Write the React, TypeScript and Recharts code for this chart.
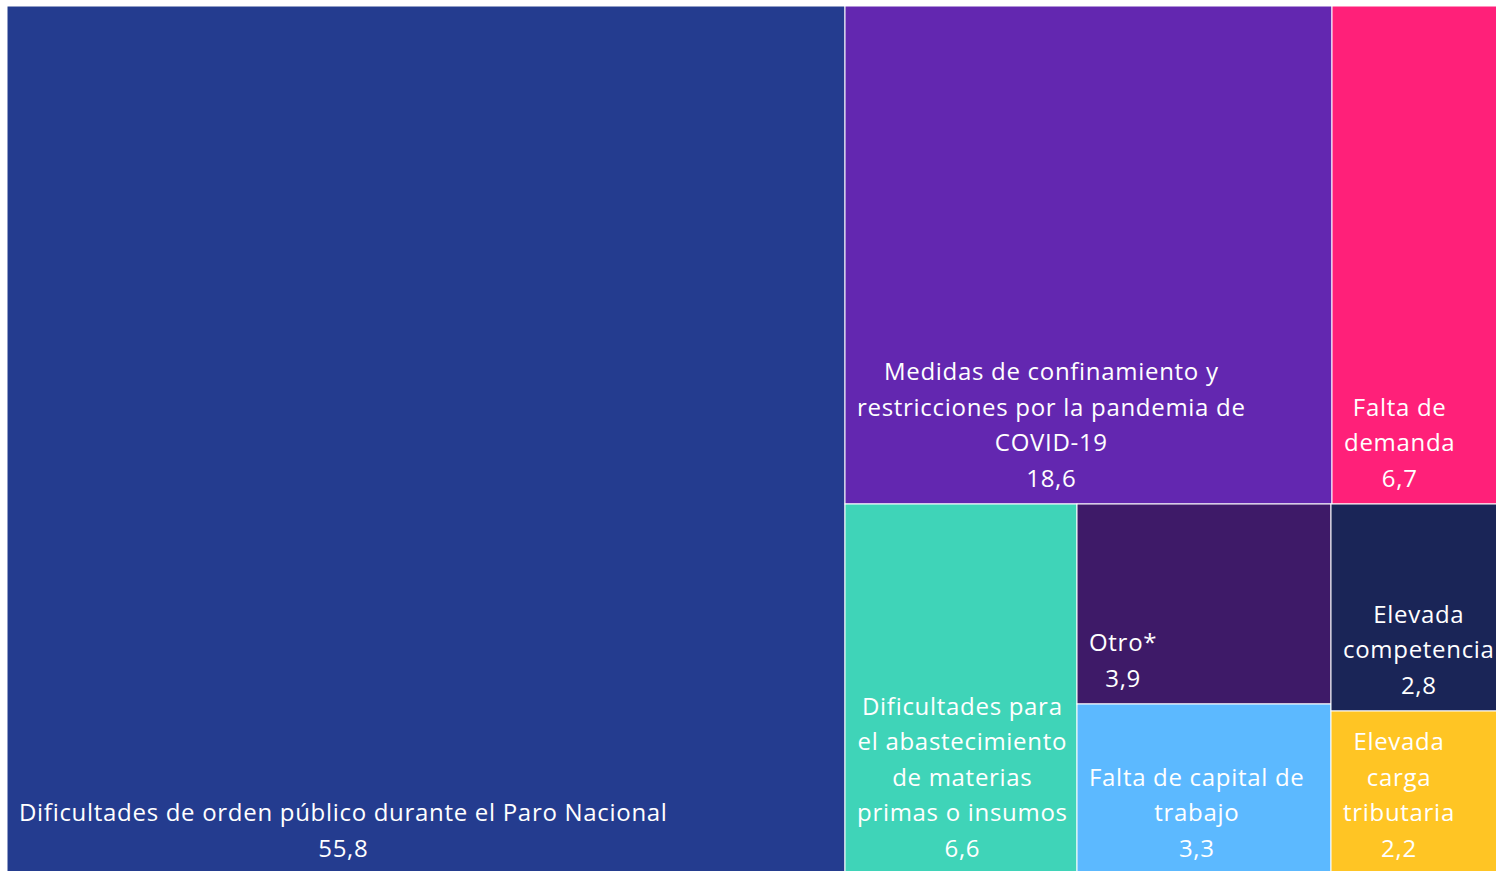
import React from "react";
import { Treemap } from "recharts";

// Motivos (porcentaje de empresas)
const labels: string[][] = [
  ["Dificultades de orden público durante el Paro Nacional"],
  ["Medidas de confinamiento y", "restricciones por la pandemia de", "COVID-19"],
  ["Falta de", "demanda"],
  ["Dificultades para", "el abastecimiento", "de materias", "primas o insumos"],
  ["Otro*"],
  ["Falta de capital de", "trabajo"],
  ["Elevada", "competencia"],
  ["Elevada", "carga", "tributaria"],
];
const values = [55.8, 18.6, 6.7, 6.6, 3.9, 3.3, 2.8, 2.2];
const colors = [
  "#243c8f",
  "#6327b0",
  "#ff2079",
  "#3fd4b8",
  "#3e1a68",
  "#5cb9ff",
  "#1a2557",
  "#ffc524",
];

const leaf = (i: number) => ({
  name: labels[i].join(" "),
  lines: labels[i],
  size: values[i],
  color: colors[i],
  leaf: true,
});

// agrupación que reproduce la disposición del gráfico original
const treeData = [
  leaf(0),
  {
    name: "resto",
    children: [
      { name: "arriba", children: [leaf(1), leaf(2)] },
      {
        name: "abajo",
        children: [
          leaf(3),
          { name: "centro", children: [leaf(4), leaf(5)] },
          { name: "derecha", children: [leaf(6), leaf(7)] },
        ],
      },
    ],
  },
];

const fmt = (v: number) => v.toFixed(1).replace(".", ",");

function Cell(props: any) {
  const { x, y, width, height, leaf: isLeaf, lines, color, value } = props;
  if (!isLeaf) return null;
  return (
    <g>
      <rect x={x} y={y} width={width} height={height} fill={color} stroke="#ffffff" strokeWidth={1} />
      <foreignObject x={x} y={y} width={width} height={height} style={{ overflow: "visible" }}>
        <div
          style={{
            width: "100%",
            height: "100%",
            display: "flex",
            flexDirection: "column",
            justifyContent: "flex-end",
            alignItems: "flex-start",
            boxSizing: "border-box",
            padding: "0 0 9px 12px",
          }}
        >
          <div
            style={{
              textAlign: "center",
              whiteSpace: "nowrap",
              color: "#ffffff",
              fontFamily: "'Open Sans', Lato, sans-serif",
              fontSize: 24,
              letterSpacing: "0.7px",
              lineHeight: "35.5px",
            }}
          >
            {lines.map((l: string, i: number) => (
              <div key={i}>{l}</div>
            ))}
            <div>{fmt(value)}</div>
          </div>
        </div>
      </foreignObject>
    </g>
  );
}

export default function App() {
  return (
    <div style={{ position: "fixed", inset: 0, overflow: "hidden", background: "#fff" }}>
      <div style={{ position: "absolute", left: 7, top: 6 }}>
        <Treemap
          width={1500}
          height={868}
          data={treeData}
          dataKey="size"
          aspectRatio={1}
          type="flat"
          isAnimationActive={false}
          content={<Cell />}
        />
      </div>
    </div>
  );
}
